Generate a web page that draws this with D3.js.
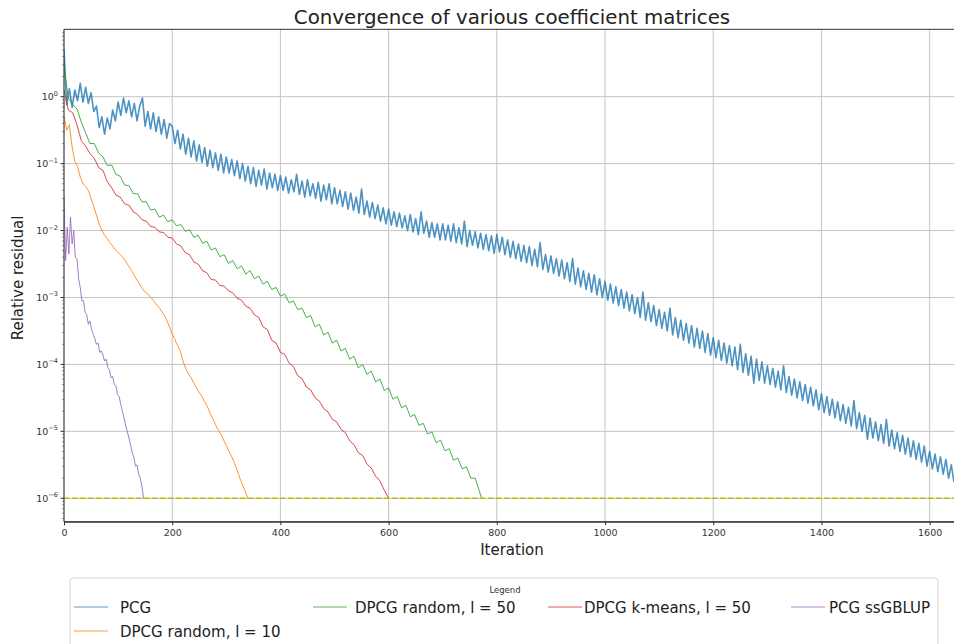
<!DOCTYPE html>
<html>
<head>
<meta charset="utf-8">
<script src="https://cdn.jsdelivr.net/npm/d3@7"></script>
<style>
  body { margin: 0; background: #fff; }
  svg { display: block; font-family: "DejaVu Sans", sans-serif; }
</style>
</head>
<body>
<div id="chart"></div>
<script>
// ---- data (log10 of the relative residual) ----
const tolerance = 1e-6;

// PCG, one value every 5 iterations, 0 .. 1645
const pcgStep = 5;
const pcgLog10 = [
  0.7, -0.12, 0.12, -0.16, 0.1, -0.06, 0.2, -0.08, 0.14, -0.1, 0.06, -0.22, -0.14, -0.46, -0.3, -0.56, -0.32, -0.48, -0.2, -0.36,
  -0.08, -0.28, -0.02, -0.24, -0.06, -0.3, -0.1, -0.36, -0.14, -0.02, -0.44, -0.22, -0.48, -0.24, -0.52, -0.3, -0.56, -0.34, -0.62, -0.4,
  -0.44, -0.7, -0.5, -0.78, -0.56, -0.86, -0.62, -0.9, -0.66, -0.96, -0.72, -0.98, -0.76, -1.04, -0.8, -1.06, -0.84, -1.1, -0.86, -1.14,
  -0.9, -1.14, -0.94, -1.18, -0.96, -1.22, -1.0, -1.26, -1.04, -1.3, -1.06, -1.34, -1.1, -1.32, -1.08, -1.38, -1.14, -1.36, -1.16, -1.4,
  -1.18, -1.4, -1.2, -1.44, -1.24, -1.42, -1.16, -1.46, -1.26, -1.5, -1.24, -1.48, -1.3, -1.52, -1.28, -1.56, -1.32, -1.54, -1.3, -1.6,
  -1.36, -1.6, -1.4, -1.64, -1.42, -1.68, -1.44, -1.7, -1.5, -1.74, -1.38, -1.76, -1.56, -1.8, -1.58, -1.82, -1.62, -1.86, -1.66, -1.9,
  -1.68, -1.92, -1.72, -1.94, -1.74, -1.96, -1.78, -2.0, -1.76, -2.02, -1.82, -2.06, -1.72, -2.04, -1.86, -2.1, -1.88, -2.1, -1.9, -2.14,
  -1.9, -2.14, -1.92, -2.16, -1.9, -2.18, -1.96, -2.2, -1.86, -2.24, -2.0, -2.22, -2.02, -2.26, -2.04, -2.28, -2.06, -2.3, -2.08, -2.34,
  -2.06, -2.32, -2.1, -2.36, -2.14, -2.4, -2.16, -2.42, -2.2, -2.46, -2.22, -2.48, -2.24, -2.52, -2.28, -2.54, -2.18, -2.58, -2.36, -2.62,
  -2.38, -2.64, -2.42, -2.68, -2.44, -2.72, -2.48, -2.76, -2.42, -2.8, -2.56, -2.84, -2.6, -2.88, -2.64, -2.92, -2.66, -2.96, -2.72, -3.0,
  -2.76, -3.04, -2.8, -3.08, -2.84, -3.12, -2.88, -3.16, -2.92, -3.2, -2.96, -3.24, -3.0, -3.3, -2.92, -3.34, -3.08, -3.36, -3.12, -3.42,
  -3.18, -3.46, -3.22, -3.5, -3.16, -3.56, -3.3, -3.6, -3.34, -3.64, -3.39, -3.68, -3.42, -3.74, -3.46, -3.76, -3.5, -3.82, -3.54, -3.86,
  -3.6, -3.9, -3.64, -3.94, -3.68, -3.98, -3.72, -4.02, -3.74, -4.08, -3.7, -4.12, -3.84, -4.16, -3.88, -4.28, -3.92, -4.24, -3.96, -4.28,
  -4.02, -4.3, -4.06, -4.34, -4.1, -4.38, -4.02, -4.42, -4.18, -4.46, -4.22, -4.5, -4.26, -4.54, -4.3, -4.58, -4.34, -4.62, -4.38, -4.68,
  -4.44, -4.72, -4.48, -4.76, -4.52, -4.8, -4.56, -4.84, -4.6, -4.88, -4.64, -4.92, -4.54, -4.96, -4.72, -5.0, -4.76, -5.12, -4.8, -5.1,
  -4.86, -5.14, -4.9, -5.18, -4.82, -5.22, -4.98, -5.26, -5.02, -5.3, -5.06, -5.34, -5.1, -5.38, -5.14, -5.42, -5.18, -5.46, -5.22, -5.52,
  -5.3, -5.56, -5.34, -5.6, -5.38, -5.64, -5.42, -5.7, -5.5, -5.76
];

// DPCG random, l = 10, one value every 5 iterations, 0 .. 340
const orangeStep = 5;
const orangeLog10 = [
  -0.3, -0.5, -0.42, -0.75, -0.97, -1.04, -1.2, -1.3, -1.34, -1.4, -1.52, -1.64, -1.77, -1.9, -2.0, -2.07, -2.12, -2.18, -2.23, -2.29,
  -2.33, -2.37, -2.41, -2.47, -2.54, -2.6, -2.67, -2.74, -2.8, -2.87, -2.92, -2.95, -3.0, -3.04, -3.1, -3.14, -3.2, -3.26, -3.34, -3.44,
  -3.54, -3.63, -3.72, -3.8, -3.95, -4.06, -4.14, -4.2, -4.28, -4.35, -4.42, -4.48, -4.56, -4.63, -4.73, -4.81, -4.9, -4.98, -5.04, -5.13,
  -5.21, -5.3, -5.38, -5.47, -5.58, -5.7, -5.8, -5.9, -6.0
];

// DPCG random, l = 50, one value every 8 iterations, 0 .. 768, then stops at 772
const greenStep = 8;
const greenLast = 772;
const greenLog10 = [
  0.45, -0.02, -0.12, -0.18, -0.38, -0.54, -0.7, -0.7, -0.84, -0.9, -1.03, -1.02, -1.16, -1.19, -1.32, -1.33, -1.45, -1.45, -1.57, -1.57,
  -1.69, -1.68, -1.8, -1.77, -1.87, -1.84, -1.93, -1.91, -2.01, -1.99, -2.1, -2.07, -2.19, -2.16, -2.29, -2.26, -2.39, -2.36, -2.49, -2.45,
  -2.57, -2.53, -2.65, -2.6, -2.72, -2.68, -2.8, -2.76, -2.88, -2.85, -2.98, -2.95, -3.08, -3.05, -3.18, -3.16, -3.3, -3.27, -3.44, -3.4,
  -3.56, -3.52, -3.68, -3.64, -3.8, -3.76, -3.92, -3.88, -4.05, -4.0, -4.15, -4.1, -4.26, -4.22, -4.39, -4.35, -4.52, -4.48, -4.65, -4.61,
  -4.78, -4.75, -4.91, -4.88, -5.04, -5.01, -5.17, -5.13, -5.29, -5.26, -5.43, -5.4, -5.56, -5.53, -5.7, -5.7, -5.9
];

// DPCG k-means, l = 50, one value every 8 iterations, 0 .. 600
const redStep = 8;
const redLog10 = [
  0.1, -0.2, -0.24, -0.42, -0.66, -0.74, -0.85, -0.92, -1.06, -1.1, -1.27, -1.36, -1.47, -1.5, -1.6, -1.62, -1.72, -1.76, -1.84, -1.86,
  -1.94, -1.95, -2.02, -2.03, -2.1, -2.11, -2.2, -2.23, -2.33, -2.36, -2.47, -2.5, -2.6, -2.63, -2.73, -2.74, -2.82, -2.83, -2.9, -2.93,
  -3.01, -3.04, -3.13, -3.16, -3.26, -3.3, -3.44, -3.48, -3.64, -3.68, -3.82, -3.85, -3.98, -4.03, -4.17, -4.21, -4.34, -4.38, -4.5, -4.55,
  -4.66, -4.71, -4.82, -4.86, -4.97, -5.02, -5.14, -5.2, -5.32, -5.36, -5.49, -5.55, -5.67, -5.74, -5.88, -6.0
];

// PCG ssGBLUP, one value every 3 iterations, 0 .. 147
const purpleStep = 3;
const purpleLog10 = [
  -1.5, -2.45, -1.95, -2.35, -1.8, -2.2, -2.0, -2.4, -2.42, -2.72, -2.85, -3.05, -3.05, -3.22, -3.26, -3.4, -3.35, -3.48, -3.55, -3.62,
  -3.7, -3.68, -3.82, -3.8, -3.86, -3.95, -3.92, -4.05, -4.08, -4.2, -4.18, -4.3, -4.32, -4.45, -4.48, -4.6, -4.7, -4.8, -4.92, -5.0,
  -5.1, -5.2, -5.32, -5.38, -5.52, -5.5, -5.64, -5.7, -5.82, -6.0
];

const seriesNames = ["PCG", "DPCG random, l = 10", "DPCG random, l = 50", "DPCG k-means, l = 50", "PCG ssGBLUP"];
const seriesColors = ["#1f77b4", "#ff7f0e", "#2ca02c", "#d62728", "#9467bd"];
const xTicks = [0, 200, 400, 600, 800, 1000, 1200, 1400, 1600];
const yTickExps = [-6, -5, -4, -3, -2, -1, 0];

// ---- build point lists ----
function toPoints(logs, step) {
  return logs.map((e, i) => ({ it: i * step, r: Math.pow(10, e) }));
}
const greenPts = toPoints(greenLog10, greenStep);
greenPts.push({ it: greenLast, r: tolerance });

const series = [
  toPoints(pcgLog10, pcgStep),
  toPoints(orangeLog10, orangeStep),
  greenPts,
  toPoints(redLog10, redStep),
  toPoints(purpleLog10, purpleStep)
];

// ---- chart ----
const W = 954, H = 644;
const plot = { left: 64, right: 954, top: 29.3, bottom: 521.7 };

const svg = d3.select("#chart").append("svg")
  .attr("width", W)
  .attr("height", H);

const x = d3.scaleLinear().domain([0, 1645]).range([plot.left, plot.right]);
const y = d3.scaleLog()
  .domain([Math.pow(10, -6.35), Math.pow(10, 1.007)])
  .range([plot.bottom, plot.top]);

svg.append("defs").append("clipPath").attr("id", "clip")
  .append("rect")
  .attr("x", plot.left).attr("y", plot.top)
  .attr("width", plot.right - plot.left).attr("height", plot.bottom - plot.top);

// grid
const grid = svg.append("g").attr("stroke", "#c4c4c4").attr("stroke-width", 1);
grid.selectAll(".gx").data(xTicks).enter().append("line")
  .attr("x1", d => x(d)).attr("x2", d => x(d))
  .attr("y1", plot.top).attr("y2", plot.bottom);
grid.selectAll(".gy").data(yTickExps).enter().append("line")
  .attr("x1", plot.left).attr("x2", plot.right)
  .attr("y1", d => y(Math.pow(10, d))).attr("y2", d => y(Math.pow(10, d)));

// lines
const line = d3.line().x(d => x(d.it)).y(d => y(d.r));
const lines = svg.append("g").attr("clip-path", "url(#clip)");
series.forEach((pts, i) => {
  lines.append("path")
    .datum(pts)
    .attr("d", line)
    .attr("fill", "none")
    .attr("stroke", seriesColors[i])
    .attr("stroke-width", i === 0 ? 1.6 : 1)
    .attr("stroke-opacity", i === 0 ? 0.8 : 0.85)
    .attr("stroke-linejoin", "round");
});

// tolerance line
lines.append("line")
  .attr("x1", x(0)).attr("x2", x(1645))
  .attr("y1", y(tolerance)).attr("y2", y(tolerance))
  .attr("stroke", "#bfbf00")
  .attr("stroke-width", 1.5)
  .attr("stroke-dasharray", "5.5,2.5");

// x axis
const xAxis = svg.append("g")
  .attr("transform", `translate(0,${plot.bottom})`)
  .call(d3.axisBottom(x).tickValues(xTicks).tickSize(3.5).tickPadding(4).tickFormat(d3.format("d")));
xAxis.select(".domain").attr("stroke", "#333");
xAxis.selectAll(".tick line").attr("stroke", "#333");
xAxis.selectAll("text").attr("font-size", "9.5px").attr("fill", "#333")
  .attr("font-family", "DejaVu Sans, sans-serif");

// y axis: minor ticks
const minor = [];
for (let e = -7; e <= 1; e++) {
  for (let m = 2; m <= 9; m++) {
    const v = m * Math.pow(10, e);
    if (v >= y.domain()[0] && v <= y.domain()[1]) minor.push(v);
  }
}
svg.append("g").selectAll("line").data(minor).enter().append("line")
  .attr("x1", plot.left - 2).attr("x2", plot.left)
  .attr("y1", d => y(d)).attr("y2", d => y(d))
  .attr("stroke", "#555").attr("stroke-width", 0.6);

const yAxis = svg.append("g");
yAxis.selectAll("line").data(yTickExps).enter().append("line")
  .attr("x1", plot.left - 3.5).attr("x2", plot.left)
  .attr("y1", d => y(Math.pow(10, d))).attr("y2", d => y(Math.pow(10, d)))
  .attr("stroke", "#333");
const yLab = yAxis.selectAll("text").data(yTickExps).enter().append("text")
  .attr("x", plot.left - 6)
  .attr("y", d => y(Math.pow(10, d)) + 3.5)
  .attr("text-anchor", "end")
  .attr("font-size", "9.5px")
  .attr("fill", "#333");
yLab.append("tspan").text("10");
yLab.append("tspan").attr("dy", -4.5).attr("font-size", "6.5px")
  .text(d => (d < 0 ? "\u2212" + (-d) : String(d)));

// spines
const spines = svg.append("g").attr("stroke", "#333").attr("stroke-width", 1);
spines.append("line").attr("x1", plot.left).attr("x2", plot.left).attr("y1", plot.top).attr("y2", plot.bottom);
spines.append("line").attr("x1", plot.left).attr("x2", plot.right).attr("y1", plot.top).attr("y2", plot.top);
spines.append("line").attr("x1", plot.left).attr("x2", plot.right).attr("y1", plot.bottom).attr("y2", plot.bottom);

// title and axis labels
svg.append("text")
  .attr("x", 512).attr("y", 24)
  .attr("text-anchor", "middle")
  .attr("font-size", "19.8px")
  .attr("fill", "#222")
  .text("Convergence of various coefficient matrices");

svg.append("text")
  .attr("x", 512).attr("y", 555)
  .attr("text-anchor", "middle")
  .attr("font-size", "15px")
  .attr("fill", "#222")
  .text("Iteration");

svg.append("text")
  .attr("transform", "translate(23,278) rotate(-90)")
  .attr("text-anchor", "middle")
  .attr("font-size", "15px")
  .attr("fill", "#222")
  .text("Relative residual");

// legend
const legend = svg.append("g");
legend.append("rect")
  .attr("x", 70).attr("y", 578)
  .attr("width", 868).attr("height", 80)
  .attr("rx", 3)
  .attr("fill", "#fff")
  .attr("stroke", "#d6d6d6");
legend.append("text")
  .attr("x", 505).attr("y", 593)
  .attr("text-anchor", "middle")
  .attr("font-size", "8.5px")
  .attr("fill", "#333")
  .text("Legend");

// column-major layout, 4 columns
const legendCols = [
  { hx: 74, tx: 120 },
  { hx: 313, tx: 355 },
  { hx: 548, tx: 584 },
  { hx: 791, tx: 829 }
];
const legendOrder = [[0, 0, 0], [1, 0, 1], [2, 1, 0], [3, 2, 0], [4, 3, 0]]; // [series, col, row]
legendOrder.forEach(([si, c, r]) => {
  const yy = 607 + r * 24;
  const col = legendCols[c];
  legend.append("line")
    .attr("x1", col.hx).attr("x2", col.hx + 34)
    .attr("y1", yy).attr("y2", yy)
    .attr("stroke", seriesColors[si])
    .attr("stroke-opacity", 0.5)
    .attr("stroke-width", 1.5);
  legend.append("text")
    .attr("x", col.tx).attr("y", yy + 5.5)
    .attr("font-size", "15px")
    .attr("fill", "#222")
    .text(seriesNames[si]);
});
</script>
</body>
</html>
